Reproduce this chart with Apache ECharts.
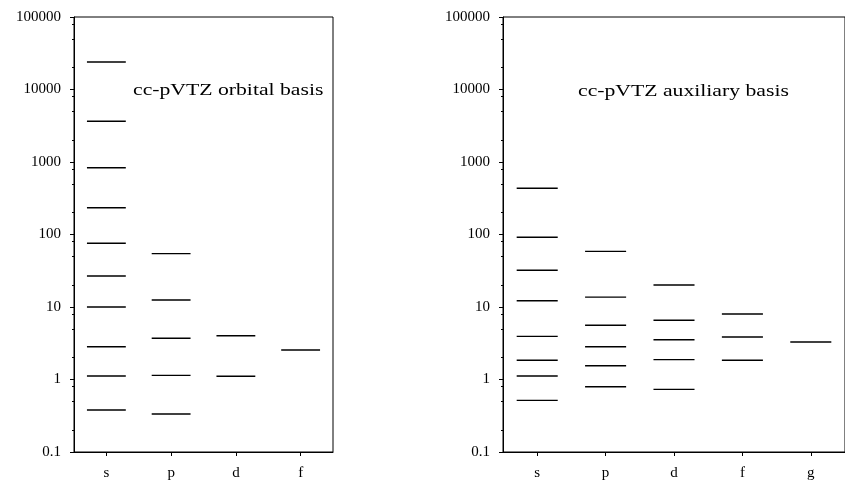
<!DOCTYPE html>
<html>
<head>
<meta charset="utf-8">
<script src="https://cdn.jsdelivr.net/npm/echarts@6/dist/echarts.min.js"></script>
<style>
html,body{margin:0;padding:0;background:#fff;}
#chart{width:845px;height:481px;}
</style>
</head>
<body>
<div id="chart"></div>
<script>
// ---- data ----
const orbitalCategories = ['s', 'p', 'd', 'f'];
const orbitalS = [24000, 3640, 834, 234, 75.6, 26.8, 10.0, 2.83, 1.12, 0.379];
const orbitalP = [54.4, 12.5, 3.70, 1.14, 0.334];
const orbitalD = [4.02, 1.11];
const orbitalF = [2.55];

const auxCategories = ['s', 'p', 'd', 'f', 'g'];
const auxS = [434, 91.5, 32.1, 12.2, 3.94, 1.84, 1.12, 0.516];
const auxP = [58.6, 13.7, 5.59, 2.83, 1.55, 0.796];
const auxD = [20.1, 6.55, 3.54, 1.88, 0.731];
const auxF = [8.0, 3.86, 1.84];
const auxG = [3.29];

const yTickLabels = ['0.1', '1', '10', '100', '1000', '10000', '100000'];
const yMinorTicks = [0.2, 0.5, 0.8, 2, 5, 8, 20, 50, 80, 200, 500, 800, 2000, 5000, 8000, 20000, 50000, 80000];

const titles = ['cc-pVTZ orbital basis', 'cc-pVTZ auxiliary basis'];

// ---- build ----
const FONT = '"Liberation Serif", "Times New Roman", serif';

function toPoints(lists) {
  const pts = [];
  lists.forEach((vals, ci) => vals.forEach(v => pts.push([ci, v])));
  return pts;
}
const orbitalData = toPoints([orbitalS, orbitalP, orbitalD, orbitalF]);
const auxData = toPoints([auxS, auxP, auxD, auxF, auxG]);

function renderLevel(params, api) {
  const c = api.coord([api.value(0), api.value(1)]);
  const w = api.size([1, 1])[0] * 0.6;
  return {
    type: 'line',
    shape: { x1: c[0] - w / 2, y1: c[1], x2: c[0] + w / 2, y2: c[1] },
    style: { stroke: '#000', lineWidth: 1.4 }
  };
}

function yLabelFmt(v) {
  const i = Math.round(Math.log10(v)) + 1;
  return yTickLabels[i] !== undefined ? yTickLabels[i] : '';
}

function majorY(gridIndex) {
  return {
    type: 'log', gridIndex: gridIndex, min: 0.1, max: 100000, logBase: 10,
    axisLine: { show: true, lineStyle: { color: '#000', width: 1 } },
    axisTick: { show: true, length: 4, lineStyle: { color: '#000' } },
    axisLabel: { formatter: yLabelFmt, fontFamily: FONT, fontSize: 15, color: '#000', margin: 13 },
    splitLine: { show: false }
  };
}
function minorY(gridIndex) {
  return {
    type: 'log', gridIndex: gridIndex, min: 0.1, max: 100000, logBase: 10,
    position: 'left',
    axisLine: { show: false },
    axisTick: { show: true, length: 2, customValues: yMinorTicks, lineStyle: { color: '#000' } },
    axisLabel: { show: false },
    splitLine: { show: false }
  };
}
function xAxis(gridIndex, cats) {
  return {
    type: 'category', gridIndex: gridIndex, data: cats, boundaryGap: true,
    axisLine: { show: true, lineStyle: { color: '#000', width: 1 } },
    axisTick: { show: true, alignWithLabel: true, length: 4, lineStyle: { color: '#000' } },
    axisLabel: { fontFamily: FONT, fontSize: 15, color: '#000', margin: 14 },
    splitLine: { show: false }
  };
}

const chart = echarts.init(document.getElementById('chart'), null, { renderer: 'canvas' });
chart.setOption({
  animation: false,
  backgroundColor: '#fff',
  grid: [
    { left: 74, top: 17, width: 259, height: 435, show: true, borderColor: '#000', borderWidth: 1, containLabel: false },
    { left: 503, top: 17, width: 348, height: 435, show: true, borderColor: '#000', borderWidth: 1, containLabel: false }
  ],
  xAxis: [xAxis(0, orbitalCategories), xAxis(1, auxCategories)],
  yAxis: [majorY(0), minorY(0), majorY(1), minorY(1)],
  series: [
    { type: 'custom', xAxisIndex: 0, yAxisIndex: 0, data: orbitalData, renderItem: renderLevel, silent: true },
    { type: 'custom', xAxisIndex: 1, yAxisIndex: 2, data: auxData, renderItem: renderLevel, silent: true }
  ],
  graphic: [
    { type: 'text', x: 133, y: 90, scaleX: 1.24, style: { text: titles[0], font: '17.5px ' + FONT, fill: '#000', textAlign: 'left', textVerticalAlign: 'middle' } },
    { type: 'text', x: 578, y: 91, scaleX: 1.24, style: { text: titles[1], font: '17.5px ' + FONT, fill: '#000', textAlign: 'left', textVerticalAlign: 'middle' } }
  ]
});
</script>
</body>
</html>
